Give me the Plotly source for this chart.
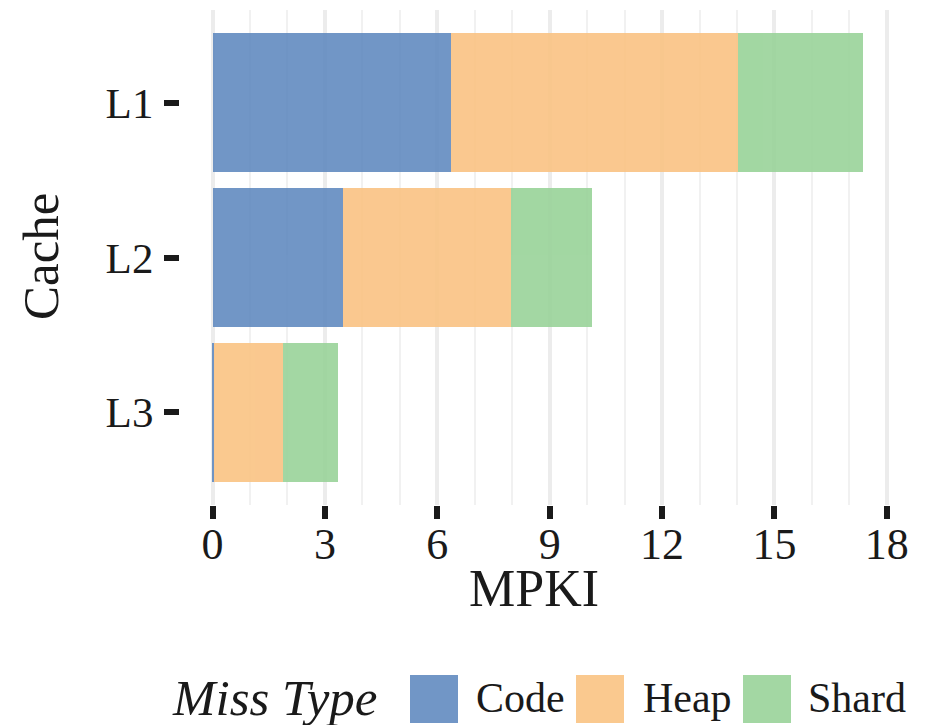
import plotly.graph_objects as go

# ---- data ----
caches = ["L1", "L2", "L3"]
miss_types = ["Code", "Heap", "Shard"]
code_mpki = [6.37, 3.48, 0.05]
heap_mpki = [7.67, 4.50, 1.83]
shard_mpki = [3.31, 2.14, 1.48]
x_ticks = [0, 3, 6, 9, 12, 15, 18]

colors = {"Code": "#628bc0", "Heap": "#fac383", "Shard": "#99d399"}
series = {"Code": code_mpki, "Heap": heap_mpki, "Shard": shard_mpki}

# page body has an 8px margin, so layout coords = screen coords - 8
OFF = 8
W, H = 918, 717
ML, MR, MT, MB = 172, 31, 2, 220
PW, PH = W - ML - MR, H - MT - MB
FONT = "Liberation Serif"

def px_x(px):
    return (px - OFF - ML) / PW

def px_y(py):
    return (H - MB - (py - OFF)) / PH

fig = go.Figure()
for name in miss_types:
    fig.add_trace(go.Bar(
        y=caches, x=series[name], orientation="h", name=name,
        marker=dict(color=colors[name], line=dict(width=0)),
        opacity=0.9, width=0.9, showlegend=False,
    ))

total_max = max(c + h + s for c, h, s in zip(code_mpki, heap_mpki, shard_mpki))
pad = 0.05 * total_max

fig.update_layout(
    width=W, height=H,
    margin=dict(l=ML, r=MR, t=MT, b=MB),
    barmode="stack",
    plot_bgcolor="white", paper_bgcolor="white",
    font=dict(family=FONT, color="#1a1a1a"),
    xaxis=dict(
        range=[-pad, total_max + pad],
        tickvals=x_ticks, ticktext=[str(v) for v in x_ticks],
        showgrid=True, gridcolor="#ececec", gridwidth=4,
        minor=dict(dtick=1, tick0=0, showgrid=True, gridcolor="#f1f1f1", gridwidth=2),
        ticks="outside", ticklen=13, tickwidth=6, tickcolor="#1a1a1a",
        tickfont=dict(size=44, family=FONT, color="#1a1a1a"),
        ticklabelstandoff=-13,
        zeroline=False, showline=False,
    ),
    yaxis=dict(
        categoryorder="array", categoryarray=caches[::-1],
        range=[-0.6, 2.6],
        showgrid=False, zeroline=False, showline=False,
        ticks="outside", ticklen=15, tickwidth=6, tickcolor="#1a1a1a",
        tickfont=dict(size=43, family=FONT, color="#1a1a1a"),
        ticklabelstandoff=2,
    ),
)

annotations = [
    dict(text="MPKI", x=px_x(534), y=px_y(588), xref="paper", yref="paper",
         xanchor="center", yanchor="middle", showarrow=False,
         font=dict(size=52, family=FONT, color="#1a1a1a")),
    dict(text="Cache", x=px_x(41), y=px_y(257), xref="paper", yref="paper",
         xanchor="center", yanchor="middle", showarrow=False, textangle=-90,
         font=dict(size=51, family=FONT, color="#1a1a1a")),
    dict(text="<i>Miss Type</i>", x=px_x(170), y=px_y(698), xref="paper", yref="paper",
         xanchor="left", yanchor="middle", showarrow=False,
         font=dict(size=51, family=FONT, color="#1a1a1a")),
]
shapes = []
key_left = {"Code": 410, "Heap": 576, "Shard": 743}
label_left = {"Code": 474, "Heap": 641, "Shard": 806}
for name in miss_types:
    x0 = key_left[name]
    shapes.append(dict(type="rect", xref="paper", yref="paper",
                       x0=px_x(x0), x1=px_x(x0 + 48), y0=px_y(723), y1=px_y(675),
                       fillcolor=colors[name], opacity=0.9, line=dict(width=0)))
    annotations.append(dict(text=name, x=px_x(label_left[name]), y=px_y(698),
                            xref="paper", yref="paper", xanchor="left", yanchor="middle",
                            showarrow=False,
                            font=dict(size=42, family=FONT, color="#1a1a1a")))

fig.update_layout(annotations=annotations, shapes=shapes)
fig.write_html("out.html")
